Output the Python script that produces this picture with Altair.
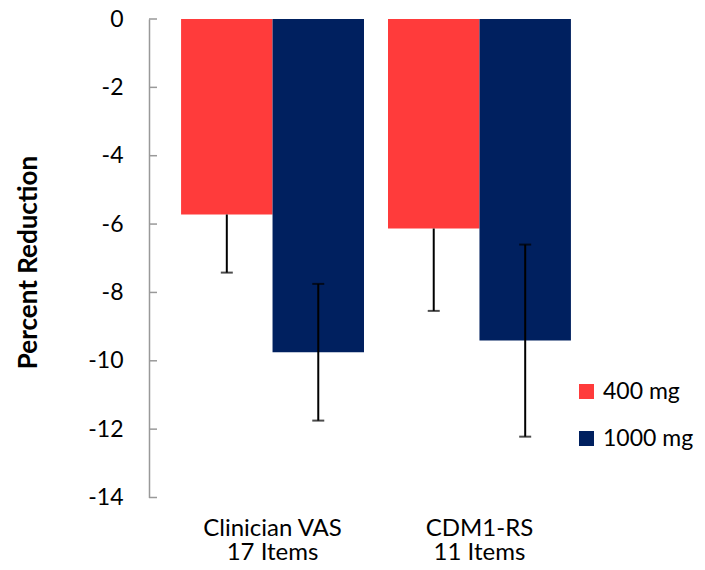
import altair as alt
import pandas as pd

# ---- data ----
categories = ["Clinician VAS", "CDM1-RS"]
item_counts = ["17 Items", "11 Items"]
doses = ["400 mg", "1000 mg"]
values_400 = [-5.72, -6.13]
values_1000 = [-9.75, -9.41]
err_minus_400 = [1.70, 2.41]
err_plus_400 = [0.0, 0.0]
err_minus_1000 = [2.00, 2.81]
err_plus_1000 = [2.00, 2.81]
y_ticks = [0, -2, -4, -6, -8, -10, -12, -14]

colors = ["#FF3B3B", "#00205F"]
FONT = "Lato"

labels = [f"{c}\n{n}" for c, n in zip(categories, item_counts)]

rows = []
for i, lab in enumerate(labels):
    for dose, vals, em, ep in [
        (doses[0], values_400, err_minus_400, err_plus_400),
        (doses[1], values_1000, err_minus_1000, err_plus_1000),
    ]:
        rows.append({"label": lab, "dose": dose, "value": vals[i],
                     "lo": vals[i] - em[i], "hi": vals[i] + ep[i],
                     "has_plus": ep[i] > 0})
df = pd.DataFrame(rows)

caps = []
for r in rows:
    caps.append({"label": r["label"], "dose": r["dose"], "y": r["lo"]})
    if r["has_plus"]:
        caps.append({"label": r["label"], "dose": r["dose"], "y": r["hi"]})
caps_df = pd.DataFrame(caps)

ticks_df = pd.DataFrame({"tick": y_ticks})

x_enc = alt.X("label:N", sort=labels,
              scale=alt.Scale(paddingInner=0.116, paddingOuter=0.155),
              axis=alt.Axis(title=None, domain=False, ticks=False,
                            labelAngle=0, labelFontSize=24, labelFont=FONT,
                            labelColor="#000000", labelPadding=19,
                            labelLineHeight=24, labelBaseline="top",
                            labelExpr="split(datum.label, '\\n')"))
xo_enc = alt.XOffset("dose:N", sort=doses,
                     scale=alt.Scale(paddingInner=0, paddingOuter=0))
y_scale = alt.Scale(domain=[-14, 0], nice=False, zero=True)

bars = alt.Chart(df).mark_bar().encode(
    x=x_enc,
    xOffset=xo_enc,
    y=alt.Y("value:Q", scale=y_scale,
            axis=alt.Axis(values=y_ticks, ticks=False, grid=False,
                          domainColor="#999999", domainWidth=1.5,
                          labelFontSize=23, labelFont=FONT, labelColor="#000000",
                          labelPadding=26,
                          labelExpr="datum.value == 0 ? '0' : '-' + abs(datum.value)",
                          title="Percent Reduction", titleFont=FONT,
                          titleFontSize=26, titleFontWeight="bold",
                          titleColor="#000000", titleAngle=270,
                          titleBaseline="middle", titleAlign="center",
                          titleX=-121, titleY=243)),
    color=alt.Color("dose:N", sort=doses,
                    scale=alt.Scale(domain=doses, range=colors),
                    legend=alt.Legend(title=None, orient="none",
                                      legendX=426, legendY=361,
                                      symbolType="square", symbolSize=225,
                                      symbolStrokeWidth=0,
                                      labelFontSize=23, labelFont=FONT,
                                      labelColor="#000000", labelOffset=5,
                                      rowPadding=23, padding=0)),
)

err = alt.Chart(df).mark_rule(color="#000000", strokeWidth=2).encode(
    x=alt.X("label:N", sort=labels), xOffset=alt.XOffset("dose:N", sort=doses),
    y=alt.Y("lo:Q", scale=y_scale), y2="hi:Q",
)

cap_marks = alt.Chart(caps_df).mark_tick(color="#000000", orient="horizontal",
                                         size=12, thickness=2).encode(
    x=alt.X("label:N", sort=labels), xOffset=alt.XOffset("dose:N", sort=doses),
    y=alt.Y("y:Q", scale=y_scale),
)

inner_ticks = alt.Chart(ticks_df).mark_rule(color="#999999", strokeWidth=1.5).encode(
    x=alt.value(0), x2=alt.value(8),
    y=alt.Y("tick:Q", scale=y_scale),
)

chart = alt.layer(bars, err, cap_marks, inner_ticks).properties(
    width=454, height=478.5,
    autosize="none",
    padding={"left": 141, "top": 11, "right": 94, "bottom": 64},
).configure(font=FONT).configure_view(stroke=None)

chart.save("out.html", embed_options={"renderer": "svg", "actions": False})
